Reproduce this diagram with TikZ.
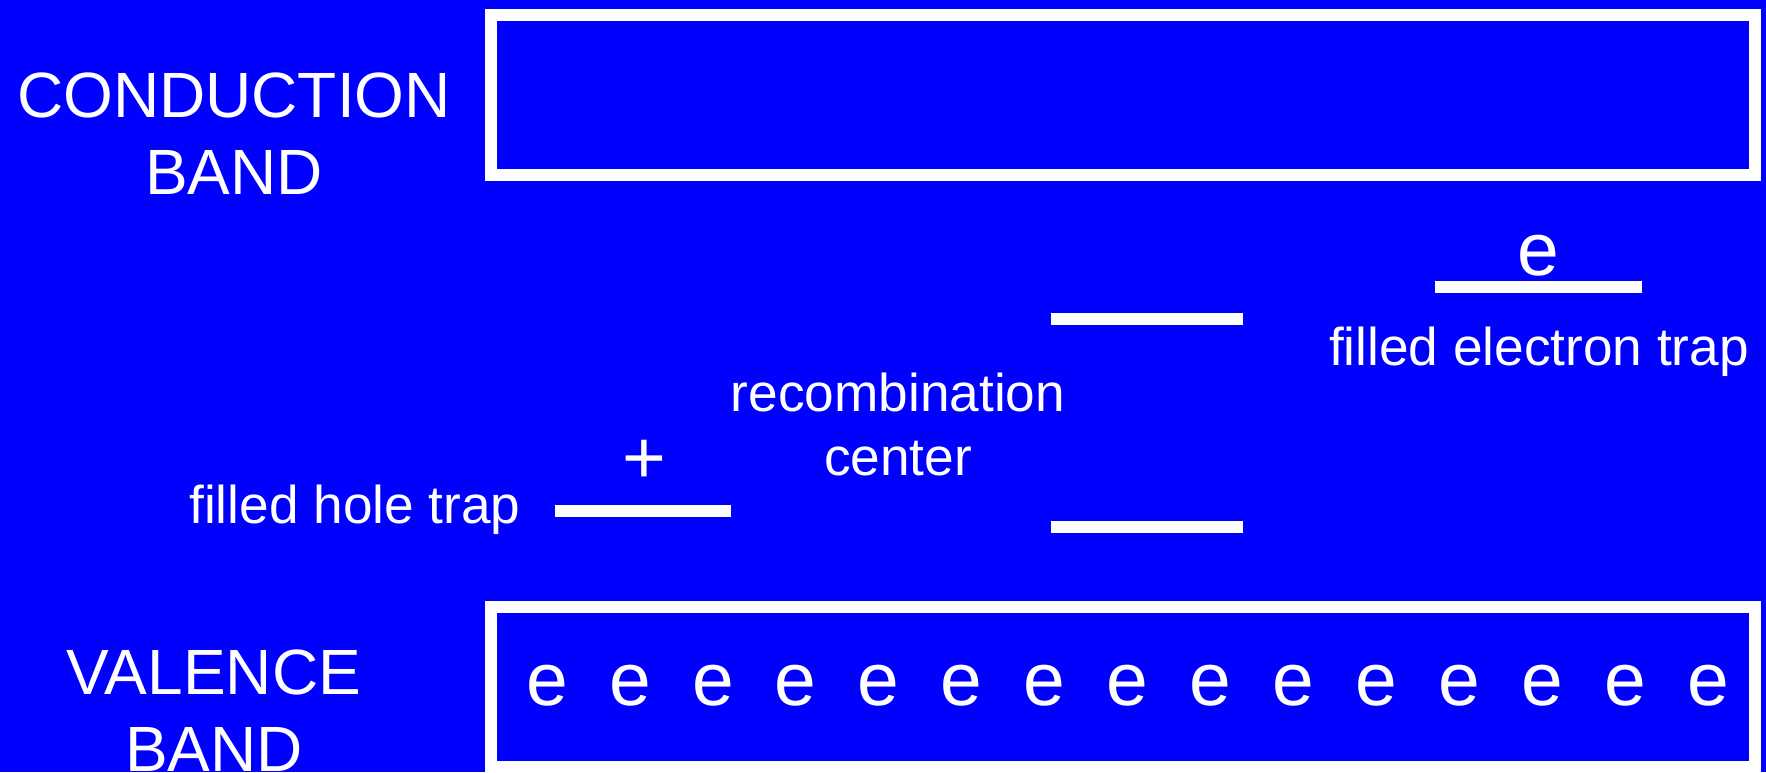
\documentclass[tikz,border=0pt]{standalone}
\usepackage{fontspec}
\setmainfont{Liberation Sans}
\usetikzlibrary{positioning}

\definecolor{bandblue}{RGB}{0,0,255}

\tikzset{
  band/.style={draw=white, line width=6pt},
  level/.style={draw=white, line width=6pt},
  bandlabel/.style={font=\fontsize{32}{38.4}\selectfont, align=center, anchor=south},
  traplabel/.style={font=\fontsize{26.6}{32}\selectfont, align=center, anchor=base},
  carrier/.style={font=\fontsize{37.5}{45}\selectfont, anchor=base},
}

\begin{document}
\begin{tikzpicture}[x=0.5pt, y=-0.5pt]
\fill [bandblue] (0,0) rectangle (1766,772);
\useasboundingbox (0,0) rectangle (1766,772);

% the two bands
\draw [band] (491,15)  rectangle (1755,175);
\draw [band] (491,607) rectangle (1755,766.5);

% trap levels
\draw [level] (1435,287) -- (1642,287);
\draw [level] (1051,319) -- (1243,319);
\draw [level] (1051,527) -- (1243,527);
\draw [level] (555,511)  -- (731,511);

\begin{scope}[every node/.style={text=white, inner sep=0pt}]
\node [bandlabel] (cb) at (234,195) {CONDUCTION\\BAND};
\node [bandlabel] (vb) at (214,772) {VALENCE\\BAND};

\node [carrier] (etrap) at (1538,275) {e};
\node [traplabel] (etraplbl) at (1539,365) {filled electron trap};
\node [traplabel, anchor=south] (rc) at (898,476) {recombination\\center};
\node [carrier] (htrap) at (644,483) {+};
\node [traplabel] (htraplbl) at (355,523) {filled hole trap};

\foreach \i in {0,...,14}
  \node [carrier] (v\i) at ({547+82.93*\i},705) {e};
\end{scope}
\end{tikzpicture}
\end{document}
